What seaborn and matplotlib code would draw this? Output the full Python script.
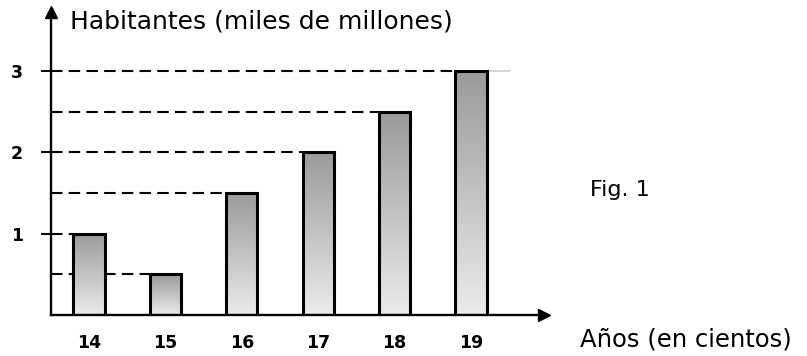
import numpy as np
import pandas as pd
import matplotlib
matplotlib.use("Agg")
import matplotlib.pyplot as plt
import seaborn as sns

# Population per century (thousand millions)
centuries = ["14", "15", "16", "17", "18", "19"]
population = [1.0, 0.5, 1.5, 2.0, 2.5, 3.0]
y_ticks = [1, 2, 3]
y_tick_labels = ["1", "2", "3"]

sns.set_style("white")
plt.rcParams["font.family"] = ["DejaVu Sans"]
plt.rcParams["text.color"] = "black"
plt.rcParams["xtick.color"] = "black"
plt.rcParams["ytick.color"] = "black"

W, H = 807, 356
fig = plt.figure(figsize=(W / 100, H / 100), dpi=100)

# axes placed in pixel terms: origin at (51, 315) from top-left
x0_px, x1_px = 51, 544
y0_px, y1_px = 315, 12
ax = fig.add_axes([x0_px / W, (H - y0_px) / H, (x1_px - x0_px) / W, (y0_px - y1_px) / H])

df = pd.DataFrame({"century": centuries, "population": population})
sns.barplot(data=df, x="century", y="population", ax=ax, width=0.41,
            facecolor="none", edgecolor="black", linewidth=2.2, zorder=3)

XMIN, XMAX, YMAX = -0.497, 5.955, 3.725

# vertical grey gradient inside every bar
grad = np.linspace(0, 1, 256).reshape(-1, 1)
cmap = matplotlib.colors.LinearSegmentedColormap.from_list(
    "bar_grey", ["#ebebeb", "#9a9a9a"])
for patch in ax.patches:
    x, y = patch.get_x(), patch.get_y()
    w, h = patch.get_width(), patch.get_height()
    im = ax.imshow(grad, cmap=cmap, extent=[x, x + w, y, y + h],
                   origin="lower", aspect="auto", zorder=2)
    im.set_clip_path(patch)

ax.set_xlim(XMIN, XMAX)
ax.set_ylim(0, YMAX)

# dashed guide lines from the vertical axis to each bar's top-left corner
for i, v in enumerate(population):
    left = ax.patches[i].get_x()
    ax.plot([XMIN, left], [v, v], color="black", linestyle=(0, (5.5, 3)),
            linewidth=1.5, zorder=1, dash_capstyle="butt")
top_i = int(np.argmax(population))
right = ax.patches[top_i].get_x() + ax.patches[top_i].get_width()
ax.plot([right, right + 0.3], [population[top_i]] * 2, color="#d0d0d0",
        linewidth=1.2, zorder=1)

# axes with arrow heads
for s in ["top", "right"]:
    ax.spines[s].set_visible(False)
for s in ["left", "bottom"]:
    ax.spines[s].set_linewidth(1.7)
    ax.spines[s].set_color("black")
ax.plot(1, 0, ">", color="black", markersize=9, transform=ax.transAxes, clip_on=False)
ax.plot(0, 1, "^", color="black", markersize=9, transform=ax.transAxes, clip_on=False)

ax.set_yticks(y_ticks)
ax.set_yticklabels(y_tick_labels, fontsize=12.5, fontweight="bold")
ax.tick_params(axis="y", length=7, width=1.4, direction="out", pad=13, left=True)
ax.tick_params(axis="x", length=0, pad=14, labelsize=12.5)
for t in ax.get_xticklabels():
    t.set_fontweight("bold")
ax.set_xlabel("")
ax.set_ylabel("")

fig.text(70 / W, 1 - 22 / H, "Habitantes (miles de millones)", fontsize=18,
         ha="left", va="center")
fig.text(590 / W, 1 - 190 / H, "Fig. 1", fontsize=16, ha="left", va="center")
fig.text(580 / W, 1 - 340 / H, "Años (en cientos)", fontsize=17.5, ha="left", va="center")

fig.savefig("out.png", dpi=100, facecolor="white")
